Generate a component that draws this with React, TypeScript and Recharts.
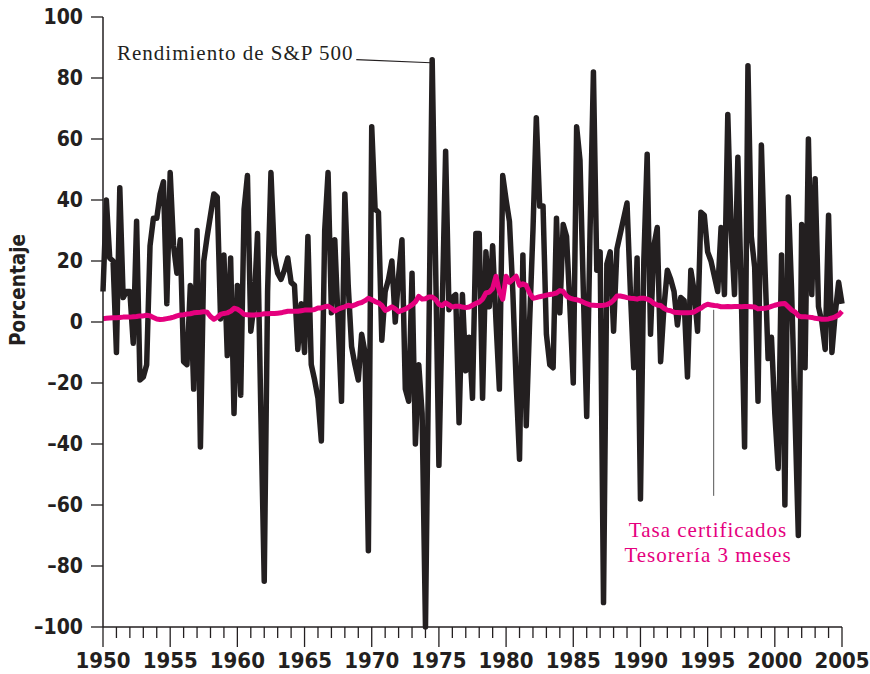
import { LineChart, Line, XAxis, YAxis, ReferenceLine } from "recharts";

// Quarterly S&P 500 return (%), 1950 Q1 .. 2005 Q1
const spReturns = [
  10, 40, 21, 20, -10, 44, 8, 10, 10, -7, 33, -19, -18, -14, 25, 34,
  34, 42, 46, 6, 49, 25, 16, 27, -13, -14, 12, -22, 30, -41, 20, 28,
  35, 42, 41, 1, 22, -11, 21, -30, 12, -24, 37, 48, -3, 6, 29, -30,
  -85, 10, 49, 22, 16, 14, 17, 21, 13, 12, -9, 6, -10, 28, -14, -19,
  -25, -39, 30, 49, 3, 27, 0, -26, 42, 12, -8, -14, -19, -4, -10, -75,
  64, 37, 36, -6, 10, 14, 20, 0, 15, 27, -22, -26, 16, -40, -14, -30,
  -100, -7, 86, 20, -47, 5, 56, 4, 8, 9, -33, 9, -16, -5, -25, 29,
  29, -25, 23, 5, 25, 0, -22, 48, 40, 33, 10, -20, -45, 22, -34, 0,
  30, 67, 38, 38, -4, -14, -15, 34, 3, 32, 28, 5, -20, 64, 53, 10,
  -31, 30, 82, 17, 23, -92, 19, 23, -3, 24, 29, 34, 39, 10, -15, 21,
  -58, 20, 55, -4, 25, 31, -13, 5, 17, 14, 10, -1, 8, 7, -18, 17,
  10, -3, 36, 35, 23, 20, 15, 10, 31, 9, 68, 30, 9, 54, 10, -41,
  84, 28, 18, -26, 58, 20, -12, -5, -30, -48, 22, -60, 41, 10, -30, -70,
  32, -15, 60, 9, 47, 5, 0, -9, 35, -10, 3, 13, 6,
];

// Quarterly 3-month Treasury bill rate (%)
const tbillRates = [
  1.1, 1.2, 1.3, 1.4, 1.4, 1.5, 1.6, 1.6, 1.6, 1.7, 1.8, 2.0, 2.0, 2.2, 2.0, 1.5,
  1.0, 0.8, 0.9, 1.1, 1.3, 1.6, 2.0, 2.3, 2.4, 2.6, 2.7, 3.0, 3.1, 3.2, 3.4, 3.2,
  1.8, 0.9, 1.5, 2.5, 2.8, 3.0, 3.5, 4.5, 4.2, 3.5, 2.5, 2.4, 2.3, 2.3, 2.4, 2.5,
  2.7, 2.7, 2.8, 2.8, 2.9, 3.0, 3.3, 3.5, 3.5, 3.5, 3.5, 3.7, 3.9, 3.9, 3.9, 4.1,
  4.6, 4.6, 5.0, 5.2, 4.5, 3.6, 4.2, 4.6, 5.0, 5.5, 5.2, 5.6, 6.1, 6.4, 7.0, 7.8,
  7.3, 6.7, 6.3, 5.4, 3.8, 4.3, 5.0, 4.3, 3.4, 3.8, 4.2, 4.9, 5.6, 6.6, 8.4, 7.5,
  7.6, 8.2, 8.2, 7.4, 5.8, 5.4, 6.3, 5.6, 4.9, 5.2, 5.2, 4.9, 4.7, 4.9, 5.5, 6.1,
  6.5, 7.5, 9.5, 9.8, 11.0, 15.0, 10.0, 7.5, 15.0, 13.0, 14.0, 15.0, 12.0, 12.5, 12.0, 9.5,
  7.8, 8.0, 8.3, 8.5, 8.8, 9.0, 9.2, 9.5, 10.3, 10.0, 8.5, 7.8, 7.5, 7.3, 7.0, 6.5,
  6.0, 5.6, 5.5, 5.4, 5.4, 5.5, 5.7, 6.2, 7.2, 8.5, 8.5, 8.3, 8.0, 7.8, 7.7, 7.5,
  7.8, 7.8, 7.5, 7.0, 6.0, 5.6, 5.4, 4.5, 3.9, 3.7, 3.2, 3.1, 3.0, 3.0, 3.0, 3.1,
  3.3, 4.0, 4.5, 5.3, 5.8, 5.6, 5.4, 5.3, 5.0, 5.0, 5.1, 5.0, 5.1, 5.1, 5.0, 5.1,
  5.1, 5.0, 4.9, 4.3, 4.4, 4.5, 4.7, 5.1, 5.5, 5.8, 6.0, 6.1, 5.0, 3.9, 3.3, 2.0,
  1.7, 1.7, 1.6, 1.5, 1.2, 1.1, 0.9, 0.9, 1.0, 1.3, 1.7, 2.3, 3.5,
];

const firstYear = 1950;
const yearTicks = Array.from({ length: 56 }, (_, i) => firstYear + i);
const pctTicks = [-100, -80, -60, -40, -20, 0, 20, 40, 60, 80, 100];

const data = spReturns.map((v, i) => ({
  year: firstYear + i / 4,
  sp: v,
  tbill: tbillRates[i],
}));

const INK = "#231f20";
const PINK = "#e5007e";
const AXIS_FONT = "'DejaVu Sans Condensed', 'DejaVu Sans', sans-serif";
const SERIF = "'Liberation Serif', 'DejaVu Serif', serif";

function YearTick({ x, y, payload }: any) {
  const major = payload.value % 5 === 0;
  return (
    <g>
      <line x1={x} x2={x} y1={y} y2={y + (major ? 20 : 11)} stroke={INK} strokeWidth={1.3} />
      {major && (
        <text
          x={x}
          y={y + 41}
          textAnchor="middle"
          fontFamily={AXIS_FONT}
          fontStretch="condensed"
          fontWeight={700}
          fontSize={22}
          fill={INK}
        >
          {payload.value}
        </text>
      )}
    </g>
  );
}

export default function App() {
  return (
    <div style={{ position: "absolute", left: 0, top: 0, width: 870, height: 674, background: "#fff" }}>
      <LineChart width={870} height={674} data={data} margin={{ top: 17, right: 28, left: 43, bottom: 7 }}>
        <XAxis
          dataKey="year"
          type="number"
          domain={[1950, 2005]}
          ticks={yearTicks}
          interval={0}
          tick={<YearTick />}
          tickSize={0}
          tickMargin={0}
          tickLine={false}
          height={40}
          axisLine={{ stroke: INK, strokeWidth: 1.5 }}
        />
        <YAxis
          type="number"
          domain={[-100, 100]}
          ticks={pctTicks}
          interval={0}
          width={60}
          tickSize={12}
          tickMargin={8}
          tickLine={{ stroke: INK, strokeWidth: 1.3 }}
          axisLine={{ stroke: INK, strokeWidth: 1.5 }}
          tickFormatter={(v: number) => (v < 0 ? `–${Math.abs(v)}` : `${v}`)}
          tick={{ fontFamily: AXIS_FONT, fontWeight: 700, fontSize: 21, fill: INK }}
        />
        <Line
          type="linear"
          dataKey="sp"
          stroke={INK}
          strokeWidth={5.5}
          strokeLinejoin="round"
          dot={false}
          isAnimationActive={false}
        />
        <Line
          type="linear"
          dataKey="tbill"
          stroke={PINK}
          strokeWidth={5}
          strokeLinejoin="round"
          dot={false}
          isAnimationActive={false}
        />
        <ReferenceLine
          segment={[
            { x: 1968.85, y: 86 },
            { x: 1974.4, y: 85 },
          ]}
          stroke={INK}
          strokeWidth={1.2}
        />
        <ReferenceLine
          segment={[
            { x: 1995.45, y: -57 },
            { x: 1995.45, y: 4 },
          ]}
          stroke="#555"
          strokeWidth={1}
        />
      </LineChart>
      <svg
        width={870}
        height={674}
        style={{ position: "absolute", left: 0, top: 0, pointerEvents: "none" }}
      >
        <text
          x={25}
          y={290}
          transform="rotate(-90 25 290)"
          textAnchor="middle"
          fontFamily={AXIS_FONT}
          fontWeight={700}
          fontSize={20.5}
          fill={INK}
        >
          Porcentaje
        </text>
        <text x={117} y={60} fontFamily={SERIF} fontSize={21} letterSpacing={1} fill={INK}>
          Rendimiento de S&amp;P 500
        </text>
        <text x={708} y={537} textAnchor="middle" fontFamily={SERIF} fontSize={21} letterSpacing={1} fill={PINK}>
          Tasa certificados
        </text>
        <text x={708} y={562} textAnchor="middle" fontFamily={SERIF} fontSize={21} letterSpacing={1} fill={PINK}>
          Tesorería 3 meses
        </text>
      </svg>
    </div>
  );
}
